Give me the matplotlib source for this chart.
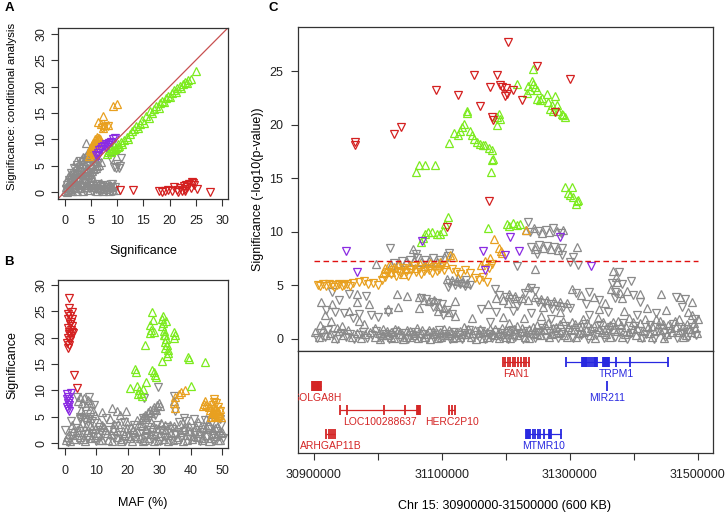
"""Regional association plot: conditional analysis (A), MAF (B), locus zoom (C)."""
import matplotlib
matplotlib.use("Agg")
import matplotlib.pyplot as plt
import numpy as np

plt.rcParams["font.family"] = ["Liberation Sans", "DejaVu Sans"]

W, H = 726, 514

GREY = "#8A8A8A"
GREEN = "#7CEB1E"
ORANGE = "#E8A020"
RED = "#D42020"
PURPLE = "#8A2BE2"
FRAME = "#333333"
DIAG = "#C85050"
GENE_RED = "#D42525"
GENE_BLUE = "#2828E0"

CHR_START = 30900000
GWAS_THRESHOLD = 7.3

# ---------------------------------------------------------------------------
# Panel A: (significance, conditional significance)
# ---------------------------------------------------------------------------
A_GREY_UP = [(0.0, 0.2), (0.3, 1.0), (0.2, 2.0), (0.6, 0.4), (0.7, 1.6), (0.6, 2.8), (1.0, 0.9),
             (1.1, 2.2), (1.0, 3.4), (1.4, 0.3), (1.5, 1.5), (1.5, 2.9), (1.6, 4.0), (1.9, 0.8),
             (2.0, 2.1), (2.0, 3.6), (2.1, 4.8), (2.4, 0.2), (2.5, 1.4), (2.5, 2.8), (2.6, 4.2),
             (2.7, 5.6), (3.0, 0.7), (3.0, 2.0), (3.1, 3.4), (3.2, 4.8), (3.3, 6.2), (3.6, 0.3),
             (3.6, 1.3), (3.7, 2.6), (3.8, 4.0), (3.9, 5.4), (4.0, 6.8), (4.2, 0.9), (4.3, 2.0),
             (4.4, 3.3), (4.5, 4.6), (4.6, 6.0), (4.7, 7.3), (4.1, 9.4), (4.9, 0.4), (5.0, 1.5),
             (5.1, 2.8), (5.2, 4.1), (5.3, 5.3), (5.5, 6.6), (5.6, 0.9), (5.8, 1.8), (5.9, 4.6),
             (6.0, 5.9), (6.2, 0.3), (6.4, 1.3), (6.6, 5.2), (6.8, 0.8), (7.0, 1.7), (7.3, 0.2),
             (7.5, 1.2), (7.9, 0.6), (8.1, 1.6), (8.5, 0.3), (8.8, 1.1), (9.2, 0.5), (9.5, 1.4),
             (1.2, 3.2), (0.4, 0.0), (0.9, 1.8), (1.2, 0.6), (1.6, 2.3), (2.2, 1.6), (2.6, 3.6),
             (3.2, 1.6), (3.3, 2.5), (3.8, 3.3), (4.1, 4.3), (4.4, 1.3), (4.9, 2.1), (5.1, 3.4),
             (5.6, 4.3), (6.2, 4.9), (6.9, 5.8), (6.4, 0.8), (7.4, 0.6), (8.0, 1.0), (8.6, 1.4),
             (9.1, 0.9), (9.8, 0.4), (3.6, 6.6), (4.4, 7.6), (2.2, 5.9)]
A_GREY_DN = [(0.2, 0.6), (0.5, 1.4), (0.9, 0.1), (0.8, 2.4), (1.3, 1.2), (1.3, 3.7), (1.8, 0.5),
             (1.8, 2.6), (1.8, 4.5), (2.3, 1.0), (2.3, 3.3), (2.4, 5.2), (2.8, 0.4), (2.8, 2.4),
             (2.9, 3.9), (2.9, 6.0), (3.4, 1.0), (3.4, 2.9), (3.5, 4.4), (3.5, 5.8), (3.9, 0.2),
             (4.0, 1.7), (4.0, 3.7), (4.2, 5.0), (4.3, 6.4), (4.6, 0.7), (4.7, 2.4), (4.8, 3.9),
             (5.0, 5.7), (5.3, 0.2), (5.4, 1.1), (5.4, 3.4), (5.7, 5.0), (5.8, 6.2), (6.0, 0.6),
             (6.1, 1.6), (6.3, 5.5), (6.6, 0.2), (6.7, 1.1), (7.1, 0.5), (7.2, 1.4), (7.6, 0.9),
             (7.8, 0.2), (8.3, 1.0), (8.7, 0.6), (9.0, 1.5), (9.4, 0.2), (9.7, 0.9), (10.8, 6.5),
             (9.5, 4.8), (9.9, 5.4), (10.3, 4.6), (10.6, 5.0), (9.8, 4.5), (8.9, 6.2)]
A_ORANGE_UP = [(4.6, 6.9), (4.9, 7.3), (5.1, 7.8), (5.3, 8.2), (5.0, 8.5), (5.5, 8.7), (5.7, 9.1),
               (5.4, 9.4), (5.9, 9.6), (6.1, 9.9), (6.3, 10.2), (5.8, 10.0), (6.6, 10.3), (6.0, 8.6),
               (5.6, 7.5), (6.4, 9.3), (4.8, 7.9), (5.2, 9.0), (6.2, 10.5), (6.8, 10.0), (6.3, 13.3),
               (7.3, 14.4), (7.6, 12.7), (8.2, 12.7), (7.3, 12.1), (6.9, 12.9), (9.2, 16.4),
               (9.9, 16.8)]
A_ORANGE_DN = [(7.6, 12.4), (8.3, 12.6), (7.1, 12.2), (5.0, 7.1), (5.6, 8.2), (6.2, 9.1)]
A_PURPLE_DN = [(6.0, 7.0), (6.3, 7.4), (6.6, 7.9), (6.9, 8.2), (7.2, 8.6), (7.5, 8.8), (7.8, 9.1),
               (8.2, 9.0), (8.5, 9.4), (8.9, 9.6), (9.3, 10.0), (9.7, 10.3), (6.4, 6.8), (7.9, 8.6)]
A_GREEN_UP = [(8.0, 7.3), (8.3, 7.6), (8.6, 7.9), (8.8, 7.6), (8.9, 8.3), (9.2, 8.0), (9.5, 8.8),
              (9.6, 8.1), (9.8, 8.4), (10.1, 9.1), (10.2, 8.5), (10.4, 8.7), (10.7, 9.5), (11.0, 9.2),
              (11.4, 9.8), (11.8, 10.4), (12.1, 10.0), (12.5, 11.1), (12.9, 11.5), (13.3, 11.9),
              (13.7, 12.6), (14.0, 12.1), (14.4, 13.0), (14.7, 13.6), (15.1, 13.2), (15.6, 14.5),
              (16.0, 14.0), (16.3, 15.3), (16.7, 15.0), (17.1, 15.8), (17.5, 16.3), (17.9, 16.0),
              (18.2, 16.9), (18.6, 17.3), (19.0, 17.0), (19.3, 17.8), (19.7, 18.3), (20.1, 18.0),
              (20.4, 18.8), (20.8, 19.3), (21.2, 19.0), (21.5, 19.7), (21.9, 20.1), (22.2, 19.8),
              (22.6, 20.5), (22.9, 20.9), (23.3, 20.6), (23.6, 21.2), (24.0, 21.5), (25.0, 23.0)]
A_RED_DN = [(10.5, 0.5), (13.1, 0.4), (18.0, 0.2), (18.6, 0.1), (19.2, 0.3), (19.8, 0.4), (20.4, 0.2),
            (20.9, 0.9), (21.4, 0.4), (21.9, 0.7), (22.3, 0.3), (22.7, 1.2), (23.0, 0.6), (23.4, 1.0),
            (23.7, 1.5), (24.0, 0.8), (24.3, 2.0), (24.6, 1.4), (25.3, 0.6), (27.7, 0.1), (22.9, 0.2),
            (21.6, 0.1), (24.4, 1.8), (23.2, 1.4)]

# ---------------------------------------------------------------------------
# Panel B: (MAF %, significance)
# ---------------------------------------------------------------------------
B_GREY_UP = [(0.5, 0.5), (1.5, 1.8), (2.5, 3.5), (3.0, 0.8), (4.0, 2.5), (5.0, 1.2), (5.5, 3.8),
             (6.5, 0.4), (7.0, 2.0), (8.0, 3.2), (8.5, 0.9), (9.5, 2.6), (10.5, 1.5), (11.0, 4.0),
             (12.0, 0.6), (12.5, 3.0), (13.5, 1.9), (14.5, 4.5), (15.0, 0.3), (15.5, 2.8), (16.5, 1.2),
             (17.0, 3.6), (18.0, 0.7), (18.5, 2.3), (19.5, 4.1), (20.0, 1.4), (21.0, 3.0), (21.5, 0.4),
             (22.5, 2.0), (23.0, 4.4), (24.0, 1.0), (24.5, 3.3), (25.5, 0.6), (26.0, 2.5), (27.0, 1.7),
             (27.5, 4.0), (28.5, 0.3), (29.0, 2.9), (30.0, 1.3), (30.5, 3.8), (31.5, 0.8), (32.0, 2.4),
             (33.0, 1.6), (33.5, 3.4), (34.5, 0.5), (35.0, 2.1), (36.0, 1.1), (36.5, 3.7), (37.5, 0.4),
             (38.0, 2.6), (39.0, 1.5), (39.5, 3.2), (40.5, 0.7), (41.0, 2.3), (42.0, 1.2), (42.5, 3.9),
             (43.5, 0.5), (44.0, 2.8), (45.0, 1.6), (45.5, 3.5), (46.5, 0.9), (47.0, 2.4), (48.0, 1.3),
             (48.5, 3.0), (49.5, 0.6), (50.0, 2.0),
             (0.8, 1.2), (1.8, 0.4), (2.8, 2.2), (3.8, 1.5), (4.8, 3.0), (5.8, 0.8), (6.8, 3.3),
             (7.8, 1.6), (8.8, 2.9), (9.8, 1.1), (10.8, 0.6), (11.8, 3.4), (12.8, 2.4), (13.8, 0.5),
             (14.8, 1.7), (15.8, 3.7), (16.8, 2.2), (17.8, 0.3), (18.8, 1.5), (19.8, 2.8), (20.8, 0.9),
             (21.8, 2.4), (22.8, 1.3), (23.8, 3.4), (24.8, 0.4), (25.8, 2.6), (26.8, 1.0), (27.8, 3.0),
             (28.8, 1.8), (29.8, 0.6), (30.8, 2.6), (31.8, 3.4), (32.8, 0.3), (33.8, 1.9), (34.8, 3.2),
             (35.8, 0.8), (36.8, 2.0), (37.8, 3.0), (38.8, 0.5), (39.8, 2.2), (40.8, 1.3), (41.8, 3.0),
             (42.8, 2.3), (43.8, 1.0), (44.8, 3.0), (45.8, 0.4), (46.8, 1.7), (47.8, 2.9), (48.8, 0.6),
             (49.8, 1.9),
             (4.4, 8.0), (5.0, 8.8), (5.6, 7.5), (6.2, 8.6), (6.8, 7.0), (7.4, 8.2), (8.0, 6.5),
             (8.5, 7.6), (9.0, 6.0), (9.6, 5.4), (5.2, 6.3), (6.0, 5.5), (7.0, 5.0), (8.2, 4.8),
             (24.5, 4.6), (25.0, 5.0), (25.5, 5.4), (26.0, 5.0), (26.5, 5.8), (27.0, 6.2), (27.5, 5.6),
             (28.0, 6.5), (28.5, 6.9), (29.0, 6.3), (29.5, 7.2), (30.0, 7.6), (30.4, 7.0),
             (15.0, 6.7), (16.5, 6.0), (17.6, 5.4), (19.5, 6.0), (12.0, 5.8), (34.8, 8.0), (44.8, 4.6)]
B_GREY_DN = [(0.2, 2.5), (1.0, 0.2), (2.0, 4.2), (2.5, 1.3), (3.5, 2.8), (4.5, 0.5), (5.0, 4.5),
             (6.0, 2.2), (7.5, 1.0), (7.8, 4.5), (9.0, 1.9), (10.0, 0.3), (10.8, 3.1), (11.5, 2.1),
             (12.8, 1.0), (13.2, 4.8), (14.0, 2.5), (15.8, 0.9), (16.2, 3.2), (17.5, 1.5), (18.8, 3.9),
             (19.2, 0.4), (20.5, 2.6), (21.8, 1.1), (22.2, 3.5), (23.5, 0.7), (24.2, 2.2), (25.0, 4.8),
             (25.8, 1.4), (26.5, 3.1), (27.8, 0.8), (28.2, 2.0), (29.5, 3.5), (30.2, 0.4), (31.0, 2.4),
             (31.8, 1.2), (32.5, 3.1), (33.8, 0.6), (34.2, 2.7), (35.5, 1.5), (36.2, 3.9), (37.0, 0.9),
             (37.8, 2.2), (38.5, 4.1), (39.8, 0.8), (40.2, 2.8), (41.5, 1.6), (42.2, 3.3), (43.0, 0.3),
             (43.8, 2.0), (44.5, 4.3), (45.2, 1.1), (46.0, 2.7), (46.8, 3.9), (47.5, 0.4), (48.2, 2.2),
             (49.0, 1.4), (49.8, 3.4), (50.2, 0.9),
             (3.9, 8.8), (7.8, 8.8), (9.2, 7.2), (6.5, 4.3), (8.8, 4.2), (4.8, 5.0),
             (26.8, 4.8), (28.8, 5.4), (25.1, 8.6), (29.8, 10.7), (34.6, 8.9), (35.2, 6.0),
             (49.5, 4.5), (38.0, 4.8), (41.0, 4.5)]
B_ORANGE_UP = [(34.7, 7.5), (35.0, 8.8), (35.2, 6.6), (36.2, 9.3), (37.0, 9.7), (38.2, 10.1),
               (44.2, 7.4), (44.6, 7.9), (44.0, 7.0), (45.0, 7.2), (46.2, 6.3), (46.8, 5.6), (47.3, 6.8),
               (47.8, 5.2), (48.3, 6.1), (48.8, 5.7), (49.3, 6.4), (49.6, 5.0), (46.5, 5.0), (47.0, 6.0),
               (48.0, 6.5), (49.0, 5.3), (47.5, 5.8), (46.0, 6.8), (48.5, 4.9)]
B_ORANGE_DN = [(47.5, 8.3), (47.6, 7.7), (48.2, 7.5), (47.0, 7.3), (48.8, 6.9), (46.5, 6.5),
               (49.5, 6.0), (47.2, 5.0), (48.0, 5.5), (49.0, 4.8)]
B_PURPLE_DN = [(0.8, 9.2), (1.2, 8.8), (0.9, 8.4), (1.4, 8.0), (1.0, 7.6), (1.3, 7.2), (0.8, 6.8),
               (1.1, 6.4), (1.5, 6.1), (1.9, 9.5)]
B_GREEN_UP = [(27.7, 24.9), (28.2, 23.4), (27.2, 22.4), (27.6, 21.4), (27.1, 20.9), (28.3, 21.0),
              (30.8, 23.5), (31.2, 24.0), (31.4, 22.8), (30.9, 22.1), (31.6, 21.3), (32.0, 20.5),
              (32.3, 19.8), (31.8, 19.2), (32.5, 18.6), (31.9, 18.0), (32.8, 17.6), (33.0, 17.0),
              (32.6, 16.5), (31.0, 15.5), (34.6, 21.0), (35.0, 20.5), (34.8, 20.0), (25.6, 18.6),
              (39.3, 16.3), (39.4, 16.0), (44.7, 15.3), (22.5, 14.0), (22.8, 13.4), (28.3, 13.4),
              (28.6, 12.9), (29.0, 12.6), (27.9, 13.8), (20.9, 10.4), (23.0, 10.8), (23.6, 10.0),
              (24.2, 9.5), (24.6, 9.0), (23.3, 9.2), (25.0, 10.2), (25.7, 11.5), (40.0, 10.9),
              (32.2, 23.2), (31.5, 20.5)]
B_RED_DN = [(1.3, 27.4), (1.5, 25.5), (1.0, 24.5), (1.8, 24.0), (1.2, 23.5), (2.0, 23.0), (1.6, 22.6),
            (2.2, 22.2), (1.1, 21.8), (1.9, 21.4), (2.4, 21.0), (1.4, 20.6), (2.1, 20.3), (1.0, 19.9),
            (1.7, 19.6), (0.9, 19.0), (1.3, 18.5), (1.2, 18.0), (2.9, 12.9), (3.9, 10.5), (2.5, 24.8),
            (2.3, 23.6), (1.5, 21.0), (2.6, 20.8)]

# ---------------------------------------------------------------------------
# Panel C: (kb from CHR_START, significance)
# ---------------------------------------------------------------------------
C_GREY_UP = [(2, 0.6), (8, 0.2), (14, 0.9), (20, 0.3), (26, 0.5), (33, 0.1), (40, 0.7), (46, 0.3),
             (54, 0.8), (60, 0.2), (67, 0.5), (74, 0.1), (80, 0.4), (88, 0.6), (95, 0.2), (102, 0.5),
             (108, 0.9), (114, 0.3), (120, 0.6), (126, 0.1), (132, 0.8), (138, 0.4), (144, 0.2),
             (150, 0.7), (156, 0.3), (162, 1.0), (168, 0.5), (174, 0.2), (180, 0.8), (186, 0.4),
             (192, 0.1), (198, 0.6), (204, 0.9), (210, 0.3), (216, 0.5), (222, 0.2), (228, 0.7),
             (234, 1.1), (240, 0.4), (246, 0.2), (252, 0.8), (258, 0.5), (264, 0.1), (270, 0.6),
             (276, 0.9), (282, 0.3), (288, 0.5), (294, 1.0), (300, 0.2), (306, 0.7), (312, 0.4),
             (318, 1.2), (324, 0.6), (330, 0.2), (336, 0.9), (342, 0.5), (348, 1.3), (354, 0.3),
             (360, 0.8), (366, 1.5), (372, 0.4), (378, 1.1), (384, 0.6), (390, 1.7), (396, 0.2),
             (402, 0.9), (408, 1.4), (414, 0.5), (420, 1.8), (426, 0.8), (432, 0.3), (438, 1.2),
             (444, 1.9), (450, 0.6), (456, 1.0), (462, 0.2), (468, 1.6), (474, 0.7), (480, 1.3),
             (486, 0.4), (492, 1.9), (498, 0.9), (504, 0.3), (510, 1.5), (516, 0.7), (522, 1.1),
             (528, 0.2), (534, 1.8), (540, 0.8), (546, 1.4), (552, 0.4), (558, 1.0), (564, 1.7),
             (570, 0.6), (576, 1.2), (582, 0.3), (588, 0.9), (594, 1.5), (598, 0.5),
             (103, 0.0), (109, 0.3), (115, 0.7), (121, 0.2), (127, 0.9), (133, 0.4), (139, 0.0),
             (145, 0.8), (151, 0.2), (157, 0.5), (163, 0.1), (169, 0.8), (175, 0.4), (181, 0.0),
             (187, 0.7), (193, 0.5), (199, 0.2), (205, 0.3), (211, 0.8), (217, 0.1), (223, 0.6),
             (229, 0.2), (235, 0.4), (241, 0.9), (247, 0.5), (253, 0.0), (259, 0.9), (265, 0.6),
             (271, 0.2), (277, 0.4), (283, 0.9), (289, 0.1), (295, 0.4), (301, 0.8), (307, 0.1),
             (313, 0.9), (319, 0.3), (325, 1.0), (331, 0.6), (337, 0.1), (343, 1.1), (349, 0.4),
             (355, 0.8), (361, 1.3), (367, 0.2), (373, 1.0), (379, 0.5), (385, 1.4), (391, 0.3),
             (397, 1.1), (403, 1.6), (409, 0.2), (415, 1.2), (421, 0.6), (427, 1.5), (433, 1.0),
             (439, 0.1), (445, 0.9), (451, 1.6), (457, 0.4), (463, 1.3), (469, 0.9), (475, 1.7),
             (481, 0.2), (487, 1.1), (493, 0.6), (499, 1.6), (505, 1.0), (511, 0.2), (517, 1.8),
             (523, 0.5), (529, 1.2), (535, 0.8), (541, 1.7), (547, 0.1), (553, 1.3), (559, 0.6),
             (565, 1.1), (571, 1.8), (577, 0.2), (583, 1.4), (589, 0.6), (595, 1.0), (600, 1.8),
             (11, 3.4), (29, 3.2), (27, 1.7), (68, 3.4), (86, 3.2), (70, 1.7), (130, 4.2), (146, 4.0),
             (116, 2.8), (132, 3.0), (164, 2.9), (221, 3.5), (10, 1.3), (45, 1.2), (95, 1.0), (18, 2.2),
             (55, 2.6), (78, 1.4), (36, 1.0), (68, 4.2),
             (164, 3.9), (172, 3.6), (180, 3.5), (188, 3.6), (196, 3.1), (204, 2.9), (212, 2.5),
             (220, 2.1), (194, 2.6),
             (208, 5.6), (216, 5.5), (224, 5.4), (232, 5.3), (240, 5.2), (226, 5.7),
             (120, 6.9), (132, 7.0), (144, 7.2), (156, 7.3), (168, 7.2), (180, 7.3), (192, 7.2),
             (204, 7.6), (155, 8.4), (98, 7.0), (346, 6.5),
             (285, 3.8), (295, 3.6), (305, 4.2), (315, 4.0), (325, 3.8), (335, 3.6), (345, 3.9),
             (355, 3.7), (365, 3.6), (375, 3.5), (385, 3.4), (395, 3.3), (335, 4.8), (303, 3.3),
             (358, 3.0), (272, 3.2), (295, 2.0), (328, 1.9), (355, 2.1), (385, 2.5), (248, 1.9),
             (305, 1.5),
             (332, 10.2), (344, 10.3), (356, 9.9), (368, 10.0), (380, 10.1), (390, 10.2), (346, 8.4),
             (358, 8.5), (370, 8.4), (382, 8.3), (411, 8.6),
             (468, 6.3), (472, 5.8), (474, 5.3), (464, 4.6), (478, 4.3), (482, 3.8), (490, 4.5),
             (510, 4.2), (543, 4.2), (572, 3.9), (590, 3.4), (585, 2.5), (590, 2.2), (403, 4.6),
             (418, 4.1), (438, 3.9), (455, 3.3), (445, 2.8), (520, 2.9), (550, 2.7), (485, 2.6)]
C_GREY_DN = [(5, 0.1), (11, 0.5), (17, 0.2), (23, 0.8), (30, 0.3), (37, 0.0), (43, 0.5), (50, 0.2),
             (57, 0.4), (63, 0.0), (70, 0.3), (77, 0.6), (84, 0.1), (91, 0.3), (98, 0.7), (105, 0.1),
             (111, 0.4), (117, 0.0), (123, 0.3), (129, 0.6), (135, 0.1), (141, 0.5), (147, 0.0),
             (153, 0.3), (159, 0.6), (165, 0.1), (171, 0.4), (177, 0.0), (183, 0.5), (189, 0.2),
             (195, 0.8), (201, 0.1), (207, 0.4), (213, 0.0), (219, 0.6), (225, 0.3), (231, 0.0),
             (237, 0.5), (243, 0.8), (249, 0.1), (255, 0.3), (261, 0.7), (267, 0.0), (273, 0.4),
             (279, 0.1), (285, 0.6), (291, 0.2), (297, 0.5), (303, 0.0), (309, 0.8), (315, 0.2),
             (321, 0.5), (327, 0.0), (333, 0.7), (339, 0.3), (345, 0.1), (351, 0.6), (357, 1.0),
             (363, 0.2), (369, 0.5), (375, 0.9), (381, 0.1), (387, 0.4), (393, 1.2), (399, 0.6),
             (405, 0.1), (411, 1.0), (417, 0.3), (423, 1.4), (429, 0.0), (435, 0.7), (441, 0.3),
             (447, 1.3), (453, 0.1), (459, 0.8), (465, 1.1), (471, 0.2), (477, 0.6), (483, 1.5),
             (489, 0.0), (495, 0.5), (501, 1.2), (507, 0.7), (513, 0.1), (519, 0.4), (525, 1.3),
             (531, 0.0), (537, 0.6), (543, 1.0), (549, 0.2), (555, 0.7), (561, 1.4), (567, 0.1),
             (573, 0.5), (579, 0.9), (585, 0.2), (591, 1.1), (597, 0.3),
             (34, 2.5), (47, 2.4), (70, 2.3), (89, 2.2), (55, 4.2), (29, 4.4), (116, 2.5), (20, 2.7),
             (62, 1.9), (40, 3.6), (82, 4.0), (100, 2.0),
             (168, 3.8), (176, 3.7), (184, 3.4), (192, 3.3), (200, 3.2), (208, 2.7), (216, 2.3),
             (186, 3.0), (202, 2.2),
             (212, 5.2), (220, 5.0), (228, 5.1), (236, 4.9), (244, 5.0), (210, 4.8), (238, 5.5),
             (126, 7.1), (138, 7.3), (150, 7.4), (162, 7.5), (174, 7.4), (186, 7.5), (198, 7.4),
             (210, 7.7), (160, 7.9), (119, 8.5), (212, 8.0), (283.5, 4.6), (317, 6.8),
             (290, 4.1), (300, 3.9), (310, 3.7), (320, 3.5), (330, 4.3), (340, 4.7), (350, 3.4),
             (360, 3.3), (370, 3.2), (380, 3.1), (390, 3.0), (400, 2.9), (345, 4.5), (318, 3.1),
             (372, 2.8), (285, 2.5), (312, 2.6), (340, 2.4), (370, 1.8), (262, 2.8), (276, 1.6),
             (335, 10.9), (338, 10.0), (350, 10.1), (362, 10.2), (374, 10.3), (386, 9.9), (340, 8.6),
             (352, 8.8), (364, 8.7), (376, 8.6), (388, 8.5), (348, 7.9), (388, 7.8), (405, 7.6),
             (400, 7.2), (413, 6.9),
             (476, 6.2), (466, 5.2), (481, 5.1), (470, 4.4), (470, 3.8), (496, 5.4), (498, 4.1),
             (510, 3.4), (566, 3.9), (580, 3.7), (575, 3.0), (595, 1.8), (410, 4.3), (430, 4.4),
             (446, 3.6), (425, 3.2), (460, 2.5), (535, 2.4), (505, 2.2), (430, 2.2)]
C_ORANGE_DN = [(6, 5.0), (10, 4.9), (15, 5.1), (20, 4.9), (24, 5.1), (28, 5.0), (32, 4.8), (36, 5.0),
               (40, 5.1), (44, 4.9), (48, 5.0), (52, 5.1), (56, 4.9), (62, 5.2), (70, 5.3), (78, 5.4),
               (85, 5.1), (92, 5.2), (100, 5.0), (106, 5.5), (112, 5.8), (116, 6.2), (120, 6.0),
               (124, 6.4), (128, 5.9), (132, 6.3), (136, 6.1), (140, 6.6), (144, 6.2), (148, 5.9),
               (152, 6.4), (156, 6.8), (160, 6.2), (164, 6.5), (168, 6.0), (172, 6.3), (176, 6.6),
               (180, 6.4), (184, 6.1), (188, 6.7), (192, 6.3), (196, 6.5), (200, 6.8), (204, 6.4),
               (216, 6.5), (222, 6.2), (228, 6.0), (236, 6.4), (244, 6.1), (252, 5.7), (258, 5.5),
               (264, 5.8), (270, 5.3), (274, 6.6), (278, 7.0)]
C_ORANGE_UP = [(112, 6.6), (118, 6.9), (126, 6.7), (134, 7.0), (142, 6.5), (150, 6.9), (158, 6.6),
               (166, 7.0), (174, 6.8), (182, 7.1), (190, 6.9), (198, 7.2), (206, 7.0), (213, 7.8),
               (218, 7.6), (262, 6.9), (268, 7.3), (276, 7.5), (282, 9.3), (289, 8.5), (292, 8.2),
               (294, 8.0), (332, 10.2), (120, 6.2), (140, 6.0), (108, 6.1)]
C_PURPLE_DN = [(50, 8.2), (68, 6.2), (169, 9.1), (265, 8.2), (268, 6.4), (299, 7.8), (306, 9.5),
               (321, 8.2), (384, 9.5), (433, 6.8)]
C_GREEN_UP = [(239, 21.3), (239, 21.1), (235, 20.1), (231.6, 19.8), (228, 19.4), (218.5, 19.2),
              (224.8, 19.0), (210.8, 18.3), (244.5, 19.4), (247, 19.0), (249.7, 18.7), (255, 18.4),
              (260, 18.2), (265, 18.1), (268, 18.1), (273, 17.8), (278, 17.6), (280, 16.8),
              (278, 16.7), (276.8, 15.6), (288.7, 21.0), (286, 20.7), (291, 20.5), (286, 20.0),
              (317, 23.8), (342, 25.2), (335, 23.6), (340.6, 24.1), (343, 23.8), (345.6, 23.5),
              (338, 23.2), (332.8, 23.0), (348.4, 23.2), (364, 22.9), (377, 22.7), (348, 22.4),
              (353.6, 22.3), (356, 22.5), (366.5, 22.1), (371.8, 21.8), (369, 21.5), (379.6, 21.8),
              (382, 21.3), (387.4, 21.0), (390, 20.9), (392.5, 20.7), (374, 21.3), (164, 16.2),
              (174.5, 16.2), (190, 16.2), (160.4, 15.6), (168, 9.0), (171, 9.4), (174.5, 9.8),
              (178, 10.0), (185, 10.0), (193, 9.8), (198, 9.8), (202.4, 10.1), (205, 10.7),
              (210, 11.4), (271.5, 10.3), (301.7, 10.7), (305.7, 10.5), (312, 10.8), (317, 10.6),
              (322.5, 10.7), (392.5, 14.2), (403, 14.2), (397.5, 13.6), (400, 13.4), (405, 13.2),
              (410.5, 12.9), (413, 13.0), (409, 12.6)]
C_RED_DN = [(64, 18.4), (65, 18.1), (125, 19.1), (137, 19.8), (191, 23.2), (226, 22.8), (250, 24.6),
            (259, 21.7), (286, 24.6), (275, 23.5), (291, 23.7), (294, 23.5), (299, 22.7), (300, 23.4),
            (302, 22.9), (312, 23.2), (325, 22.3), (278, 20.7), (280, 20.4), (273, 12.9), (208, 10.4),
            (303, 27.7), (348, 25.5), (377, 21.2), (400, 24.3)]

# genes (kb from CHR_START)
GENE_NAMES = ["FAN1", "TRPM1", "MIR211", "GOLGA8H", "LOC100288637", "HERC2P10", "ARHGAP11B", "MTMR10"]
GENE_START = [295, 393.5, 458.5, -3, 41, 212, 20, 331.8]
GENE_END = [336, 553.5, 458.5, 12, 166.7, 220, 32.7, 386]
GENE_ROW = [0, 0, 1, 1, 2, 2, 3, 3]
GENE_PLUS = [True, False, False, True, True, True, True, False]
GENE_EXONS = [
    [295, 299, 303, 307, 311, 315, 319, 323, 328, 332, 336],
    [393.5, 418.5, 420, 421.5, 423, 424.5, 426, 429, 431, 434, 437, 439, 441, 442,
     452, 453.5, 455, 456.5, 458, 459.5, 461.5, 472, 494, 553.5],
    [458.5],
    [-3, -1.5, 0, 1.5, 3, 4.5, 6, 7.5, 9, 10.5, 12],
    [41, 51.4, 109.5, 142.2, 161.5, 163, 164.5, 166],
    [212, 216, 220],
    [20, 23.4, 26.5, 29.6, 32.7],
    [331.8, 333.5, 335, 336.5, 338, 342.3, 346, 349.6, 353.8, 359, 366.8, 368.5, 370.4, 386],
]

GENE_TICKS_KB = [0, 100, 200, 300, 400, 500, 600]
GENE_TICK_LABELS = ["30900000", "", "31100000", "", "31300000", "", "31500000"]

fig = plt.figure(figsize=(W / 100, H / 100), dpi=100)


def px_axes(left, top, right, bottom):
    return fig.add_axes([left / W, 1 - bottom / H, (right - left) / W, (bottom - top) / H])


def style(ax):
    for s in ax.spines.values():
        s.set_color(FRAME)
        s.set_linewidth(0.9)
    ax.tick_params(length=5, width=0.8, color=FRAME, labelsize=9, labelcolor="#222222")


def tri(ax, pts, color, up, x0=0.0, xs=1.0):
    p = np.asarray(pts, float)
    ax.plot(x0 + p[:, 0] * xs, p[:, 1], ls="none", marker="^" if up else "v",
            ms=6.2, mfc="none", mec=color, mew=0.9)


# ---- A ----
ax_a = px_axes(58.3, 27.5, 228.3, 198.5)
style(ax_a)
tri(ax_a, A_GREY_UP, GREY, True)
tri(ax_a, A_GREY_DN, GREY, False)
tri(ax_a, A_ORANGE_UP, ORANGE, True)
tri(ax_a, A_ORANGE_DN, ORANGE, False)
tri(ax_a, A_GREEN_UP, GREEN, True)
tri(ax_a, A_PURPLE_DN, PURPLE, False)
tri(ax_a, A_RED_DN, RED, False)
ax_a.axline((0, 0), slope=1, color=DIAG, lw=0.9)
ax_a.set_xlim(-1.2, 31.2)
ax_a.set_ylim(-1.2, 31.2)
ax_a.set_xticks(range(0, 31, 5))
ax_a.set_yticks(range(0, 31, 5))
ax_a.tick_params(axis="x", pad=7)
ax_a.tick_params(axis="y", pad=3, labelrotation=90)
for lab in ax_a.get_yticklabels():
    lab.set_va("center")

# ---- B ----
ax_b = px_axes(58.3, 280, 228.3, 448.3)
style(ax_b)
tri(ax_b, B_GREY_UP, GREY, True)
tri(ax_b, B_GREY_DN, GREY, False)
tri(ax_b, B_ORANGE_UP, ORANGE, True)
tri(ax_b, B_ORANGE_DN, ORANGE, False)
tri(ax_b, B_GREEN_UP, GREEN, True)
tri(ax_b, B_PURPLE_DN, PURPLE, False)
tri(ax_b, B_RED_DN, RED, False)
ax_b.set_xlim(-2, 52)
ax_b.set_ylim(-1.0, 30.9)
ax_b.set_xticks(range(0, 51, 10))
ax_b.set_yticks(range(0, 31, 5))
ax_b.tick_params(axis="x", pad=7)
ax_b.tick_params(axis="y", pad=3, labelrotation=90)
for lab in ax_b.get_yticklabels():
    lab.set_va("center")

# ---- C ----
ax_c = px_axes(298.3, 27.3, 713.3, 351)
style(ax_c)
tri(ax_c, C_GREY_UP, GREY, True, CHR_START, 1000)
tri(ax_c, C_GREY_DN, GREY, False, CHR_START, 1000)
tri(ax_c, C_ORANGE_DN, ORANGE, False, CHR_START, 1000)
tri(ax_c, C_ORANGE_UP, ORANGE, True, CHR_START, 1000)
tri(ax_c, C_GREEN_UP, GREEN, True, CHR_START, 1000)
tri(ax_c, C_PURPLE_DN, PURPLE, False, CHR_START, 1000)
tri(ax_c, C_RED_DN, RED, False, CHR_START, 1000)
ax_c.hlines(GWAS_THRESHOLD, CHR_START, CHR_START + 600000, colors="#E01010", lw=1.0,
            linestyles=(0, (4, 2.5)))
xlim_c = (CHR_START - 24000, CHR_START + 624000)
ax_c.set_xlim(*xlim_c)
ax_c.set_ylim(-1.15, 29.1)
ax_c.set_xticks([])
ax_c.set_yticks(range(0, 26, 5))
ax_c.tick_params(axis="y", pad=6)

# ---- gene track ----
ax_g = px_axes(298.3, 351, 713.3, 452.7)
style(ax_g)
ax_g.set_xlim(*xlim_c)
ax_g.set_ylim(3.8, -0.45)
ax_g.set_yticks([])
ax_g.set_xticks([CHR_START + k * 1000 for k in GENE_TICKS_KB])
ax_g.set_xticklabels(GENE_TICK_LABELS)
ax_g.tick_params(axis="x", pad=7)
for name, s, e, row, plus, exons in zip(GENE_NAMES, GENE_START, GENE_END, GENE_ROW,
                                        GENE_PLUS, GENE_EXONS):
    col = GENE_RED if plus else GENE_BLUE
    xs = CHR_START + np.array([s, e]) * 1000
    ax_g.plot(xs, [row, row], color=col, lw=0.9, solid_capstyle="butt")
    ax_g.vlines(CHR_START + np.array(exons) * 1000, row - 0.21, row + 0.21, colors=col, lw=1.3)
    ax_g.text(xs.mean(), row + 0.52, name, color=col, fontsize=7.5, ha="center", va="center",
              clip_on=True)


def ftext(x, y, s, **kw):
    fig.text(x / W, 1 - y / H, s, ha="center", va="center", **kw)


ftext(143, 251, "Significance", fontsize=9)
ftext(12, 106, "Significance: conditional analysis", fontsize=8.2, rotation=90)
ftext(12, 365, "Significance", fontsize=9, rotation=90)
ftext(143, 503, "MAF (%)", fontsize=9)
ftext(258, 189, "Significance (-log10(p-value))", fontsize=9, rotation=90)
ftext(505, 506, "Chr 15: 30900000-31500000 (600 KB)", fontsize=9)
ftext(9, 8, "A", fontsize=9.5, fontweight="bold")
ftext(9, 262, "B", fontsize=9.5, fontweight="bold")
ftext(273, 8, "C", fontsize=9.5, fontweight="bold")

fig.savefig("out.png", dpi=100, facecolor="white")
